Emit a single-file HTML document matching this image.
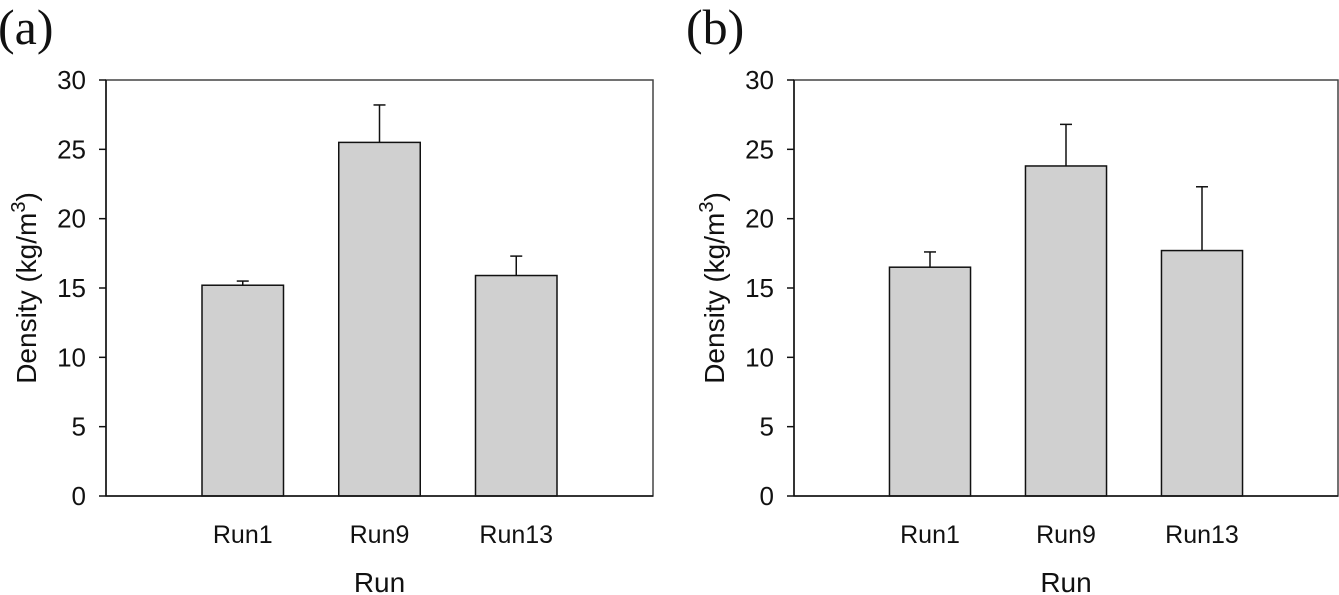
<!DOCTYPE html>
<html><head><meta charset="utf-8"><style>
body{margin:0;background:#fff;width:1339px;height:595px;overflow:hidden}
svg{display:block;font-family:"Liberation Sans",sans-serif}
</style></head><body>
<svg id="c" width="1339" height="595"></svg>
<script>
const categories = ["Run1","Run9","Run13"];
const valuesA = [15.2, 25.5, 15.9];
const errorsA = [0.3, 2.7, 1.4];
const valuesB = [16.5, 23.8, 17.7];
const errorsB = [1.1, 3.0, 4.6];
const yTicks = [0,5,10,15,20,25,30];
const NS="http://www.w3.org/2000/svg";
const svg=document.getElementById('c');
function mk(t,a,p){const e=document.createElementNS(NS,t);for(const k in a)e.setAttribute(k,a[k]);(p||svg).appendChild(e);return e;}
function panel(x0,x1,label,vals,errs,pname){
  const g=mk('g',{});
  
  
  const top=80,bot=496;
  const y=v=>bot-(v/30)*(bot-top);
  const bw=(x1-x0);
  const xc=i=>x0+bw*(0.25+0.25*i);
  const barW=bw*0.149;
  const pl=mk('text',{x:x0-108,y:44,'font-size':50,'font-family':'Liberation Serif, serif',fill:'#111'},g);
  pl.textContent=label;
  
  
  vals.forEach((v,i)=>{
    const cx=xc(i);
    const eb=mk('line',{x1:cx,x2:cx,y1:y(v),y2:y(v+errs[i]),stroke:'#111','stroke-width':1.5},g);
    
    
    mk('line',{x1:cx-6,x2:cx+6,y1:y(v+errs[i]),y2:y(v+errs[i]),stroke:'#111','stroke-width':1.5},g);
    const r=mk('rect',{x:cx-barW/2,y:y(v),width:barW,height:bot-y(v),fill:'#d0d0d0',stroke:'#111','stroke-width':1.5},g);
    
    
    const t=mk('text',{x:cx,y:543,'text-anchor':'middle','font-size':25,fill:'#111'},g);
    t.textContent=categories[i];
    
    
  });
  mk('rect',{x:x0,y:top,width:x1-x0,height:bot-top,fill:'none',stroke:'#444','stroke-width':1.5},g);
  mk('line',{x1:x0,x2:x0,y1:top,y2:bot,stroke:'#111','stroke-width':1.5},g);
  mk('line',{x1:x0,x2:x1,y1:bot,y2:bot,stroke:'#111','stroke-width':1.5},g);
  yTicks.forEach(v=>{
    mk('line',{x1:x0-7,x2:x0,y1:y(v),y2:y(v),stroke:'#111','stroke-width':1.5},g);
    const t=mk('text',{x:x0-20,y:y(v)+9,'text-anchor':'end','font-size':26,fill:'#111'},g);
    t.textContent=v;
    
    
  });
  const xt=mk('text',{x:(x0+x1)/2,y:592,'text-anchor':'middle','font-size':28,fill:'#111'},g);
  xt.textContent='Run';
  
  
  const yt=mk('text',{transform:`translate(${x0-70},${(top+bot)/2}) rotate(-90)`,'text-anchor':'middle','font-size':28,fill:'#111'},g);
  yt.innerHTML='Density (kg/m<tspan dy="-11" font-size="20">3</tspan><tspan dy="11">)</tspan>';
  
  
}
panel(106,653,'(a)',valuesA,errorsA,'panel-a');
panel(794,1338,'(b)',valuesB,errorsB,'panel-b');
</script>
</body></html>
